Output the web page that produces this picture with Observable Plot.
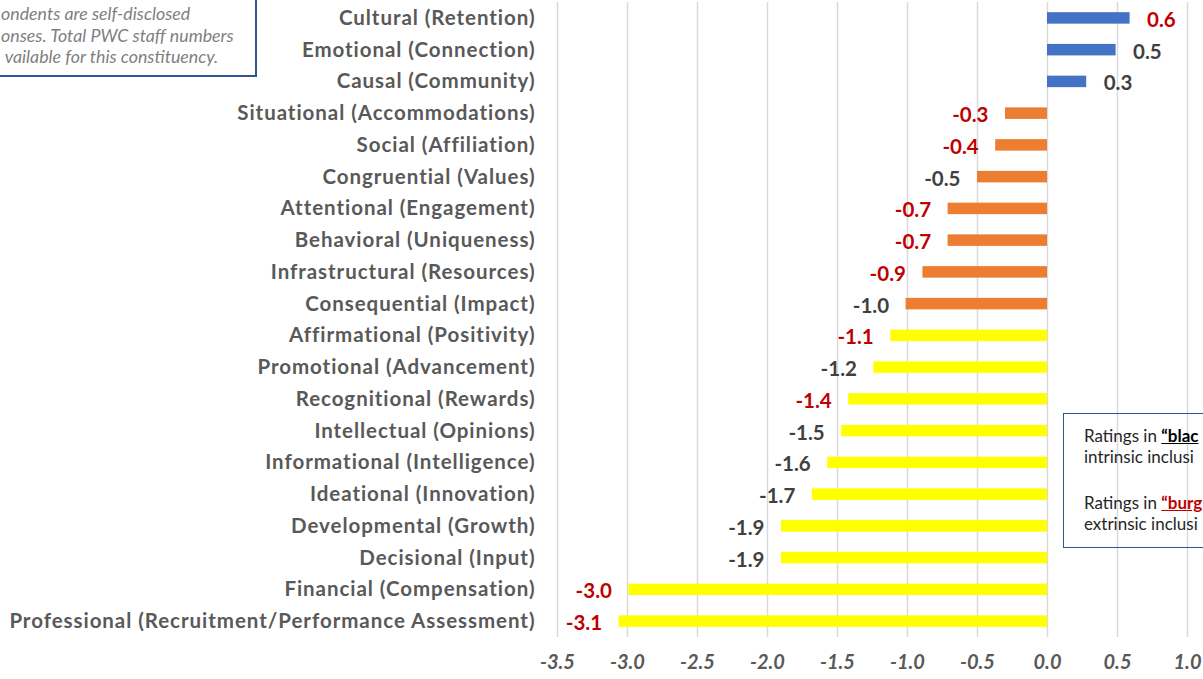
<!DOCTYPE html>
<html>
<head>
<meta charset="utf-8">
<script src="https://cdn.jsdelivr.net/npm/d3@7"></script>
<script src="https://cdn.jsdelivr.net/npm/@observablehq/plot@0.6"></script>
<style>
  html, body { margin: 0; padding: 0; background: #fff; }
  #wrap { position: relative; width: 1203px; height: 679px; overflow: hidden; font-family: Lato, "Open Sans", sans-serif; }
  #chart { position: absolute; left: 0; top: 0; }
  #chart g[aria-label="y-axis tick label"] text { letter-spacing: 0.95px; }
  .note-left {
    position: absolute; left: -3px; top: -10px; width: 260px; height: 87px;
    border: 2px solid #2F5597; background: #fff; box-sizing: border-box;
    font-style: italic; color: #7f7f7f; font-size: 17.8px; line-height: 21.5px;
    padding: 11px 0 0 2px; white-space: nowrap;
  }
  .note-right {
    position: absolute; left: 1063px; top: 413px; width: 220px; height: 135px;
    border: 1.5px solid #2F5597; background: transparent; box-sizing: border-box;
    color: #262626; font-size: 17px; line-height: 20.5px;
    padding: 12px 0 0 20px; white-space: nowrap;
  }
  .note-right p { margin: 0 0 26px 0; }
  .note-right b { text-decoration: underline; }
</style>
</head>
<body>
<div id="wrap">
  <div id="chart"></div>
  <div class="note-left">ondents are self-disclosed<br>onses. Total PWC staff numbers<br>&nbsp;vailable for this constituency.</div>
  <div class="note-right">
    <p>Ratings in <b style="color:#000">“blac</b><br>intrinsic inclusi</p>
    <p>Ratings in <b style="color:#C00000">“burg</b><br>extrinsic inclusi</p>
  </div>
</div>
<script>
// ---- data ----
const categories = [
  "Cultural (Retention)",
  "Emotional (Connection)",
  "Causal (Community)",
  "Situational (Accommodations)",
  "Social (Affiliation)",
  "Congruential (Values)",
  "Attentional (Engagement)",
  "Behavioral (Uniqueness)",
  "Infrastructural (Resources)",
  "Consequential (Impact)",
  "Affirmational (Positivity)",
  "Promotional (Advancement)",
  "Recognitional (Rewards)",
  "Intellectual (Opinions)",
  "Informational (Intelligence)",
  "Ideational (Innovation)",
  "Developmental (Growth)",
  "Decisional (Input)",
  "Financial (Compensation)",
  "Professional (Recruitment/Performance Assessment)"
];
const values = [0.59, 0.49, 0.28, -0.30, -0.37, -0.50, -0.71, -0.71, -0.89, -1.01,
                -1.12, -1.24, -1.42, -1.47, -1.57, -1.68, -1.90, -1.90, -2.99, -3.06];
const barGroups = ["positive","positive","positive",
  "moderate","moderate","moderate","moderate","moderate","moderate","moderate",
  "severe","severe","severe","severe","severe","severe","severe","severe","severe","severe"];
const labelTones = ["extrinsic","intrinsic","intrinsic","extrinsic","extrinsic","intrinsic",
  "extrinsic","extrinsic","extrinsic","intrinsic","extrinsic","intrinsic","extrinsic",
  "intrinsic","intrinsic","intrinsic","intrinsic","intrinsic","extrinsic","extrinsic"];
const xTicks = [-3.5, -3.0, -2.5, -2.0, -1.5, -1.0, -0.5, 0.0, 0.5, 1.0];

const groupNames = ["positive", "moderate", "severe"];
const groupColors = ["#4472C4", "#ED7D31", "#FFFF00"];
const toneColors = {extrinsic: "#C00000", intrinsic: "#404040"};

const data = categories.map((c, i) => ({
  category: c, value: values[i], group: barGroups[i], tone: labelTones[i]
}));
const fmt1 = d3.format(".1f");
const fmt = v => fmt1(v).replace("\u2212", "-");

const textMarks = [];
for (const tone of ["extrinsic", "intrinsic"]) {
  textMarks.push(Plot.text(data.filter(d => d.tone === tone && d.value >= 0), {
    x: "value", y: "category", text: d => fmt(d.value),
    textAnchor: "start", dx: 17, dy: 2, fill: toneColors[tone],
    fontSize: 20.5, fontWeight: "bold"
  }));
  textMarks.push(Plot.text(data.filter(d => d.tone === tone && d.value < 0), {
    x: "value", y: "category", text: d => fmt(d.value),
    textAnchor: "end", dx: -17, dy: 2, fill: toneColors[tone],
    fontSize: 20.5, fontWeight: "bold"
  }));
}

const chart = Plot.plot({
  width: 1203,
  height: 679,
  marginLeft: 557,
  marginRight: 2,
  marginTop: 2,
  marginBottom: 42,
  style: {fontFamily: "Lato, 'Open Sans', sans-serif", color: "#595959", background: "transparent"},
  x: {domain: [-3.5, 1.1], label: null},
  y: {domain: categories, paddingInner: 0.638, paddingOuter: 0.32, round: false, label: null},
  color: {domain: groupNames, range: groupColors},
  marks: [
    Plot.ruleX(xTicks, {stroke: "#d9d9d9", strokeWidth: 1.5}),
    Plot.barX(data, {x: "value", y: "category", fill: "group"}),
    ...textMarks,
    Plot.axisY({tickSize: 0, tickPadding: 22, fontSize: 20.5, fontWeight: "bold", label: null}),
    Plot.axisX({ticks: xTicks, tickFormat: fmt, tickSize: 0, tickPadding: 17, fontSize: 20,
                fontWeight: "bold", fontStyle: "italic", label: null})
  ]
});
document.getElementById("chart").appendChild(chart);
</script>
</body>
</html>
